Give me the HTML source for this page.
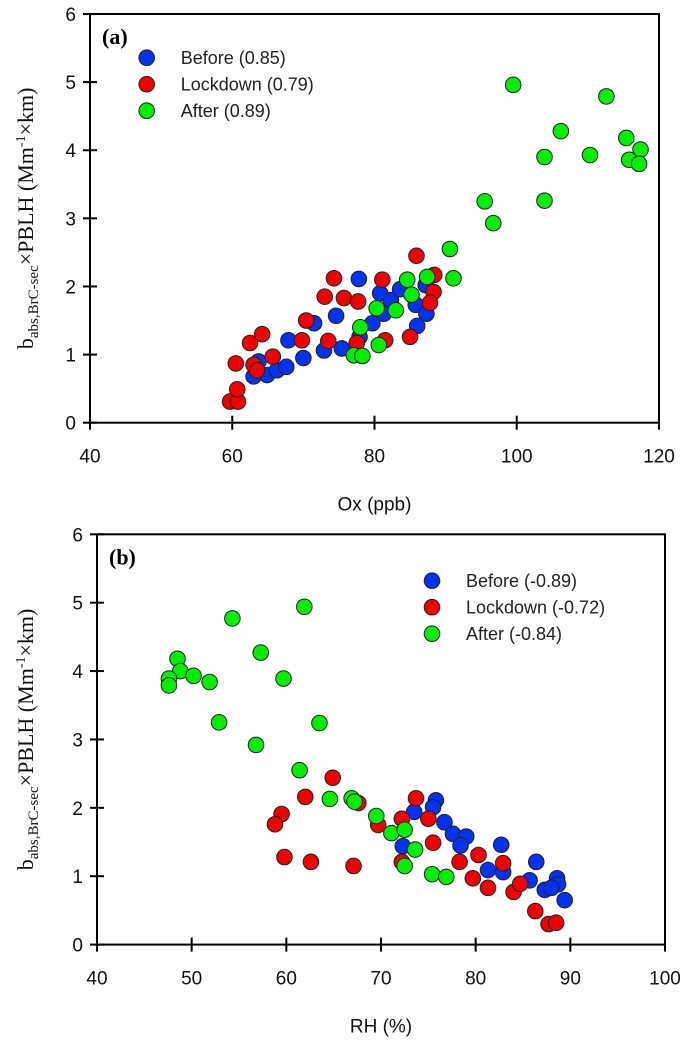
<!DOCTYPE html>
<html><head><meta charset="utf-8"><style>
html,body{margin:0;padding:0;background:#fff;}
svg{display:block;font-family:"Liberation Sans",Arial,sans-serif;}
</style></head><body>
<svg id="s" width="688" height="1041" viewBox="0 0 688 1041"></svg>
<script>
// Panel (a) data: Ox (ppb) vs babs*PBLH
const aBeforeX=[77.8,63,64.9,66.3,67.6,63.7,67.9,70,71.5,74.6,72.9,75.4,77.9,79.7,80.8,82.3,81.3,83.6,85.8,86,87.3,87.2];
const aBeforeY=[2.11,0.68,0.70,0.77,0.82,0.9,1.21,0.95,1.46,1.57,1.06,1.09,1.26,1.46,1.9,1.8,1.6,1.96,1.73,1.42,1.6,2.02];
const aLockX=[59.7,60.8,60.7,60.5,62.5,64.2,65.7,63,63.5,70.4,69.8,74.3,73,75.7,77.7,73.5,77.5,81.1,81.5,85.9,85,88.4,88.3,87.8];
const aLockY=[0.31,0.31,0.49,0.87,1.17,1.30,0.97,0.85,0.77,1.50,1.21,2.12,1.85,1.83,1.78,1.2,1.17,2.10,1.21,2.45,1.26,2.17,1.92,1.76];
const aAfterX=[84.6,85.2,87.4,90.6,91.1,80.3,83,78,80.6,77.1,78.3,99.5,112.6,106.2,115.4,103.9,110.3,117.4,115.8,117.2,95.5,103.9,96.7];
const aAfterY=[2.10,1.88,2.14,2.55,2.12,1.68,1.65,1.40,1.14,0.99,0.98,4.96,4.79,4.28,4.18,3.90,3.93,4.01,3.86,3.80,3.25,3.26,2.93];
// Panel (b) data: RH (%) vs babs*PBLH
const bBeforeX=[75.8,75.5,73.5,76.7,77.6,79,78.4,72.3,82.7,81.3,82.9,86.4,85.7,87.3,88.6,89.4,88.7,88.0];
const bBeforeY=[2.11,2.01,1.94,1.79,1.62,1.58,1.45,1.44,1.46,1.09,1.06,1.21,0.94,0.80,0.97,0.65,0.88,0.83];
const bLockX=[64.9,62.0,59.5,58.8,59.8,62.6,67.1,67.6,69.7,72.2,73.7,75,75.5,72.2,78.3,80.3,79.7,82.9,81.3,84,84.7,86.3,87.7,88.5];
const bLockY=[2.44,2.16,1.91,1.76,1.28,1.21,1.15,2.07,1.75,1.84,2.14,1.84,1.49,1.21,1.21,1.31,0.97,1.19,0.83,0.77,0.89,0.49,0.30,0.32];
const bAfterX=[61.9,54.3,57.3,48.5,48.8,50.2,51.9,47.6,47.6,59.7,52.9,63.5,56.8,61.4,64.6,66.9,67.2,69.5,71.1,72.5,73.6,72.5,75.4,76.9];
const bAfterY=[4.94,4.77,4.27,4.18,4.0,3.93,3.84,3.89,3.79,3.89,3.25,3.24,2.92,2.55,2.13,2.14,2.09,1.88,1.63,1.68,1.39,1.15,1.03,0.99];
const aXTicks=[40,60,80,100,120];
const bXTicks=[40,50,60,70,80,90,100];
const yTicks=[0,1,2,3,4,5,6];

const NS="http://www.w3.org/2000/svg";
const svg=document.getElementById('s');
function mk(tag,attrs,parent){const e=document.createElementNS(NS,tag);for(const k in attrs)e.setAttribute(k,attrs[k]);(parent||svg).appendChild(e);return e;}

function panel(p){
  const g=mk('g',{});
  
  
  const sx=v=>p.L+(v-p.x0)/(p.x1-p.x0)*(p.R-p.L);
  const sy=v=>p.B-(v-0)/6*(p.B-p.T);
  // points
  const series=[[p.bx,p.by,'#0033ee','before'],[p.lx,p.ly,'#ee0000','lockdown'],[p.ax,p.ay,'#00ee00','after']];
  for(const [xs,ys,col,nm] of series){
    for(let i=0;i<xs.length;i++){
      const c=mk('circle',{cx:sx(xs[i]),cy:sy(ys[i]),r:7.8,fill:col,stroke:'#222','stroke-width':1},g);
      
      
    }
  }
  // frame
  const fr=mk('rect',{x:p.L,y:p.T,width:p.R-p.L,height:p.B-p.T,fill:'none',stroke:'#000','stroke-width':2},g);
  
  
  for(const t of p.xt){
    const x=sx(t);
    const l=mk('line',{x1:x,x2:x,y1:p.B-7,y2:p.B+7,stroke:'#000','stroke-width':2},g);
    
    
    const tx=mk('text',{x:x,y:p.B+40,'text-anchor':'middle','font-size':19,fill:'#111'},g);
    tx.textContent=t;
    
    
  }
  for(const t of yTicks){
    const y=sy(t);
    const l=mk('line',{x1:p.L-7,x2:p.L+7,y1:y,y2:y,stroke:'#000','stroke-width':2},g);
    
    
    const tx=mk('text',{x:p.L-14,y:y+7,'text-anchor':'end','font-size':19,fill:'#111'},g);
    tx.textContent=t;
    
    
  }
  const xt=mk('text',{x:(p.L+p.R)/2,y:p.B+88,'text-anchor':'middle','font-size':19,fill:'#111'},g);
  xt.textContent=p.xtitle;
  
  
  const yt=mk('text',{x:0,y:0,'text-anchor':'middle','font-size':22,'font-family':'"Liberation Serif",serif',fill:'#111',transform:`translate(33,${(p.T+p.B)/2}) rotate(-90)`},g);
  yt.innerHTML='b<tspan font-size="15" dy="5">abs,BrC-sec</tspan><tspan dy="-5">×PBLH (Mm</tspan><tspan font-size="14" dy="-8">-1</tspan><tspan dy="8">×km)</tspan>';
  
  
  const pl=mk('text',{x:p.L+12,y:p.T+30,'font-size':22,'font-weight':'bold','font-family':'"Liberation Serif",serif',fill:'#000'},g);
  pl.textContent='('+p.id+')';
  
  
  const cols=['#0033ee','#ee0000','#00ee00'];
  for(let i=0;i<3;i++){
    const cy=p.legY+i*26.5;
    const m=mk('circle',{cx:p.legX,cy:cy,r:7.8,fill:cols[i],stroke:'#222','stroke-width':1},g);
    
    
    const t=mk('text',{x:p.legX+34,y:cy+6.5,'font-size':18,fill:'#222'},g);
    t.textContent=p.leg[i];
    
    
  }
}
panel({id:'a',L:90,R:659,T:14,B:422.7,x0:40,x1:120,xt:aXTicks,xtitle:'Ox (ppb)',
  bx:aBeforeX,by:aBeforeY,lx:aLockX,ly:aLockY,ax:aAfterX,ay:aAfterY,
  legX:146.7,legY:57.7,leg:['Before (0.85)','Lockdown (0.79)','After (0.89)']});
panel({id:'b',L:97,R:665,T:534.3,B:944.6,x0:40,x1:100,xt:bXTicks,xtitle:'RH (%)',
  bx:bBeforeX,by:bBeforeY,lx:bLockX,ly:bLockY,ax:bAfterX,ay:bAfterY,
  legX:432,legY:580.7,leg:['Before (-0.89)','Lockdown (-0.72)','After (-0.84)']});
</script>
</body></html>
